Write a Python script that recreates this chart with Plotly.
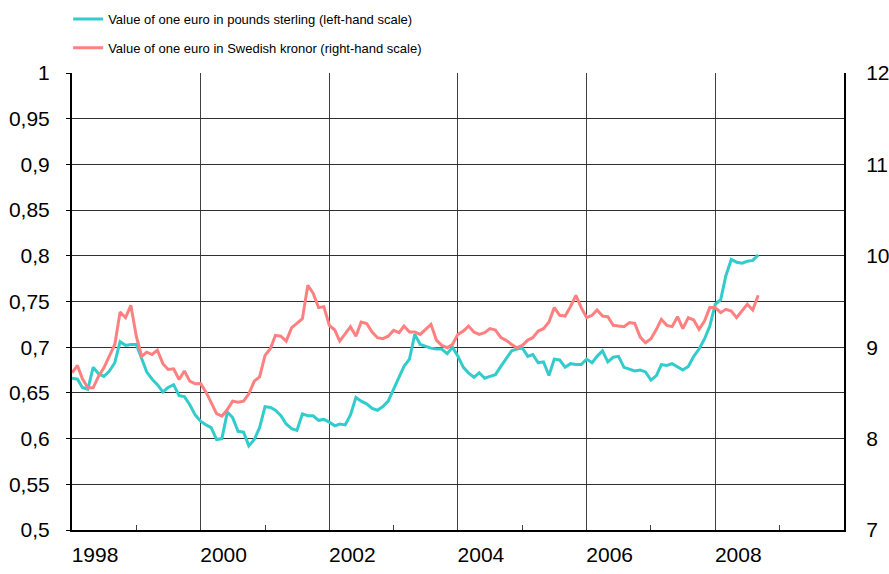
import pandas as pd
import plotly.graph_objects as go

# Monthly values, Jan 1998 - Sep 2008
gbp = [
    0.666, 0.665, 0.656, 0.654, 0.678, 0.671, 0.668, 0.674, 0.683, 0.706, 0.702, 0.703,
    0.703, 0.688, 0.673, 0.665, 0.659, 0.651, 0.656, 0.659, 0.647, 0.646, 0.637, 0.626,
    0.619, 0.615, 0.612, 0.599, 0.600, 0.629, 0.623, 0.608, 0.607, 0.592, 0.599, 0.612,
    0.635, 0.634, 0.631, 0.625, 0.616, 0.611, 0.609, 0.627, 0.625, 0.625, 0.620, 0.621,
    0.618, 0.614, 0.616, 0.615, 0.626, 0.645, 0.641, 0.638, 0.633, 0.631, 0.635, 0.641,
    0.654, 0.667, 0.679, 0.687, 0.714, 0.703, 0.701, 0.699, 0.698, 0.698, 0.693, 0.700,
    0.690, 0.678, 0.672, 0.667, 0.672, 0.666, 0.668, 0.670, 0.679, 0.687, 0.696, 0.698,
    0.699, 0.690, 0.692, 0.683, 0.684, 0.669, 0.687, 0.686, 0.678, 0.682, 0.681, 0.681,
    0.687, 0.683, 0.690, 0.696, 0.684, 0.689, 0.690, 0.678, 0.676, 0.674, 0.675, 0.673,
    0.664, 0.669, 0.681, 0.680, 0.682, 0.678, 0.675, 0.679, 0.690, 0.698, 0.709, 0.723,
    0.747, 0.752, 0.778, 0.796, 0.793, 0.792, 0.794, 0.795, 0.801,
]

sek = [
    8.72, 8.80, 8.655, 8.556, 8.556, 8.683, 8.775, 8.896, 9.03, 9.385, 9.323, 9.458,
    9.12, 8.90, 8.946, 8.92, 8.968, 8.82, 8.757, 8.764, 8.647, 8.74, 8.628, 8.60,
    8.603, 8.508, 8.398, 8.274, 8.245, 8.318, 8.41, 8.398, 8.41, 8.49, 8.628, 8.676,
    8.91, 8.987, 9.13, 9.12, 9.067, 9.214, 9.26, 9.312, 9.678, 9.59, 9.433, 9.444,
    9.239, 9.188, 9.067, 9.151, 9.225, 9.12, 9.275, 9.26, 9.166, 9.104, 9.093, 9.12,
    9.184, 9.159, 9.231, 9.166, 9.166, 9.14, 9.195, 9.25, 9.078, 9.02, 8.994, 9.03,
    9.14, 9.177, 9.231, 9.166, 9.14, 9.159, 9.203, 9.188, 9.104, 9.075, 9.03, 8.994,
    9.02, 9.078, 9.104, 9.177, 9.203, 9.275, 9.433, 9.349, 9.341, 9.444, 9.568, 9.433,
    9.323, 9.349, 9.407, 9.341, 9.334, 9.239, 9.231, 9.225, 9.269, 9.26, 9.11, 9.049,
    9.093, 9.195, 9.305, 9.239, 9.225, 9.334, 9.203, 9.323, 9.297, 9.195, 9.286, 9.433,
    9.433, 9.378, 9.414, 9.396, 9.323, 9.396, 9.469, 9.407, 9.568,
]

months = pd.date_range("1998-01-01", periods=len(gbp), freq="MS")

x_tick_vals = ["1998-01-01", "2000-01-01", "2002-01-01", "2004-01-01", "2006-01-01", "2008-01-01"]
x_tick_labels = ["1998", "2000", "2002", "2004", "2006", "2008"]
x_minor_vals = ["1999-01-01", "2001-01-01", "2003-01-01", "2005-01-01", "2007-01-01", "2009-01-01"]

y_tick_vals = [0.5, 0.55, 0.6, 0.65, 0.7, 0.75, 0.8, 0.85, 0.9, 0.95, 1.0]
y_tick_labels = ["0,5", "0,55", "0,6", "0,65", "0,7", "0,75", "0,8", "0,85", "0,9", "0,95", "1"]
y2_tick_vals = [7, 8, 9, 10, 11, 12]
y2_tick_labels = ["7", "8", "9", "10", "11", "12"]

name_gbp = "Value of one euro in pounds sterling (left-hand scale)"
name_sek = "Value of one euro in Swedish kronor (right-hand scale)"

FONT = "Liberation Sans, Arial, sans-serif"

fig = go.Figure()
fig.add_trace(go.Scatter(
    x=months, y=gbp, mode="lines", name=name_gbp, legendgroup="a",
    line=dict(color="#33CCCC", width=3), yaxis="y",
))
fig.add_trace(go.Scatter(
    x=months, y=sek, mode="lines", name=name_sek, legendgroup="b",
    line=dict(color="#FF8080", width=3), yaxis="y2",
))

fig.update_layout(
    width=889, height=574,
    margin=dict(l=72, r=45, t=73, b=44, autoexpand=False),
    paper_bgcolor="white", plot_bgcolor="white",
    font=dict(family=FONT, color="black", size=21),
    showlegend=True,
    legend=dict(
        x=-0.005, y=1.151, xanchor="left", yanchor="top",
        orientation="v", traceorder="grouped", tracegroupgap=9,
        font=dict(family=FONT, size=13, color="black"),
        bgcolor="rgba(0,0,0,0)",
    ),
    xaxis=dict(
        type="date",
        range=["1998-01-01", "2010-01-01"],
        tickmode="array", tickvals=x_tick_vals, ticktext=x_tick_labels,
        ticks="", ticklabelshift=23, ticklabelstandoff=5,
        showgrid=True, gridcolor="#404040", gridwidth=1,
        showline=True, linecolor="black", linewidth=2, mirror=False,
        minor=dict(tickmode="array", tickvals=x_minor_vals, ticks="inside",
                   ticklen=5, tickcolor="#404040", tickwidth=1, showgrid=False),
        tickfont=dict(size=21),
        zeroline=False,
    ),
    yaxis=dict(
        range=[0.5, 1.0],
        tickmode="array", tickvals=y_tick_vals, ticktext=y_tick_labels,
        ticks="outside", ticklen=4, tickcolor="black", tickwidth=1,
        ticklabelstandoff=12,
        showgrid=True, gridcolor="#303030", gridwidth=1,
        showline=True, linecolor="black", linewidth=2,
        zeroline=False,
        tickfont=dict(size=21),
    ),
    yaxis2=dict(
        range=[7, 12], overlaying="y", side="right",
        tickmode="array", tickvals=y2_tick_vals, ticktext=y2_tick_labels,
        ticks="", ticklabelstandoff=16,
        showgrid=False, showline=True, linecolor="black", linewidth=2,
        zeroline=False,
        tickfont=dict(size=21),
    ),
)

fig.write_html(
    "out.html",
    config={"displayModeBar": False},
    post_script="document.body.style.margin='0';document.body.style.padding='0';",
)
